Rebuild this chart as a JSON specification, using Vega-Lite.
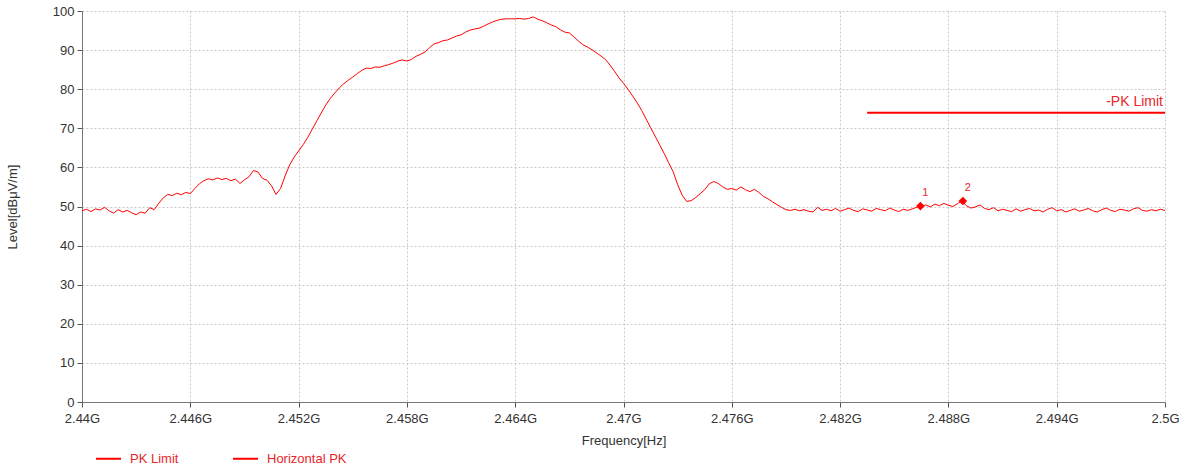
{
  "$schema": "https://vega.github.io/schema/vega-lite/v6.json",
  "autosize": {"type": "none"},
  "padding": {"left": 82, "top": 11, "right": 25, "bottom": 69},
  "width": 1083,
  "height": 391,
  "background": "white",
  "config": {
    "font": "Liberation Sans",
    "view": {"stroke": null},
    "axis": {
      "labelFont": "Liberation Sans", "labelFontSize": 13, "labelColor": "#333333",
      "titleFont": "Liberation Sans", "titleFontSize": 13, "titleFontWeight": "normal", "titleColor": "#333333",
      "domainColor": "#777777", "tickColor": "#555555", "tickSize": 5,
      "gridColor": "#c8c8c8", "gridDash": [2, 2], "gridWidth": 1
    }
  },
  "datasets": {
    "trace": [
      {"f":2440,"v":48.9},{"f":2440.25,"v":49.3},{"f":2440.5,"v":48.7},{"f":2440.75,"v":49.4},{"f":2441,"v":49.1},{"f":2441.25,"v":49.8},{"f":2441.5,"v":48.9},{"f":2441.75,"v":48.3},{"f":2442,"v":49.2},{"f":2442.25,"v":48.6},{"f":2442.5,"v":49},{"f":2442.75,"v":48.4},{"f":2443,"v":47.9},{"f":2443.25,"v":48.6},{"f":2443.5,"v":48.3},{"f":2443.75,"v":49.7},
      {"f":2444,"v":49.2},{"f":2444.25,"v":50.8},{"f":2444.5,"v":52.2},{"f":2444.75,"v":53.1},{"f":2445,"v":52.8},{"f":2445.25,"v":53.4},{"f":2445.5,"v":53.0},{"f":2445.75,"v":53.6},{"f":2446,"v":53.3},{"f":2446.25,"v":54.6},{"f":2446.5,"v":55.8},{"f":2446.75,"v":56.6},{"f":2447,"v":57.1},{"f":2447.25,"v":56.8},{"f":2447.5,"v":57.3},{"f":2447.75,"v":56.9},
      {"f":2448,"v":57.2},{"f":2448.25,"v":56.6},{"f":2448.5,"v":57.0},{"f":2448.75,"v":55.9},{"f":2449,"v":56.8},{"f":2449.25,"v":57.6},{"f":2449.5,"v":59.2},{"f":2449.75,"v":58.8},{"f":2450,"v":57.2},{"f":2450.25,"v":56.7},{"f":2450.5,"v":55.3},{"f":2450.75,"v":53.1},{"f":2451,"v":54.6},{"f":2451.25,"v":57.8},{"f":2451.5,"v":60.6},{"f":2451.75,"v":62.6},
      {"f":2452,"v":64.2},{"f":2452.25,"v":65.8},{"f":2452.5,"v":67.6},{"f":2452.75,"v":69.7},{"f":2453,"v":71.8},{"f":2453.25,"v":73.9},{"f":2453.5,"v":75.9},{"f":2453.75,"v":77.6},{"f":2454,"v":79.0},{"f":2454.25,"v":80.3},{"f":2454.5,"v":81.4},{"f":2454.75,"v":82.3},{"f":2455,"v":83.1},{"f":2455.25,"v":84.0},{"f":2455.5,"v":84.8},{"f":2455.75,"v":85.4},
      {"f":2456,"v":85.3},{"f":2456.25,"v":85.7},{"f":2456.5,"v":85.6},{"f":2456.75,"v":86.0},{"f":2457,"v":86.3},{"f":2457.25,"v":86.7},{"f":2457.5,"v":87.2},{"f":2457.75,"v":87.5},{"f":2458,"v":87.2},{"f":2458.25,"v":87.6},{"f":2458.5,"v":88.4},{"f":2458.75,"v":88.9},{"f":2459,"v":89.5},{"f":2459.25,"v":90.6},{"f":2459.5,"v":91.6},{"f":2459.75,"v":91.9},
      {"f":2460,"v":92.4},{"f":2460.25,"v":92.6},{"f":2460.5,"v":93.1},{"f":2460.75,"v":93.6},{"f":2461,"v":93.9},{"f":2461.25,"v":94.6},{"f":2461.5,"v":95.1},{"f":2461.75,"v":95.4},{"f":2462,"v":95.6},{"f":2462.25,"v":96.1},{"f":2462.5,"v":96.7},{"f":2462.75,"v":97.2},{"f":2463,"v":97.6},{"f":2463.25,"v":97.9},{"f":2463.5,"v":98.0},{"f":2463.75,"v":98.0},
      {"f":2464,"v":98.0},{"f":2464.25,"v":98.1},{"f":2464.5,"v":97.9},{"f":2464.75,"v":98.1},{"f":2465,"v":98.5},{"f":2465.25,"v":97.9},{"f":2465.5,"v":97.5},{"f":2465.75,"v":97.0},{"f":2466,"v":96.4},{"f":2466.25,"v":96.0},{"f":2466.5,"v":95.2},{"f":2466.75,"v":94.6},{"f":2467,"v":94.4},{"f":2467.25,"v":93.4},{"f":2467.5,"v":92.3},{"f":2467.75,"v":91.4},
      {"f":2468,"v":90.8},{"f":2468.25,"v":90.1},{"f":2468.5,"v":89.3},{"f":2468.75,"v":88.5},{"f":2469,"v":87.6},{"f":2469.25,"v":86.2},{"f":2469.5,"v":84.6},{"f":2469.75,"v":82.9},{"f":2470,"v":81.5},{"f":2470.25,"v":80.0},{"f":2470.5,"v":78.3},{"f":2470.75,"v":76.6},{"f":2471,"v":74.6},{"f":2471.25,"v":72.4},{"f":2471.5,"v":70.2},{"f":2471.75,"v":68.0},
      {"f":2472,"v":65.8},{"f":2472.25,"v":63.6},{"f":2472.5,"v":61.2},{"f":2472.75,"v":58.9},{"f":2473,"v":55.6},{"f":2473.25,"v":52.9},{"f":2473.5,"v":51.3},{"f":2473.75,"v":51.5},{"f":2474,"v":52.3},{"f":2474.25,"v":53.3},{"f":2474.5,"v":54.3},{"f":2474.75,"v":55.8},{"f":2475,"v":56.4},{"f":2475.25,"v":55.9},{"f":2475.5,"v":55.0},{"f":2475.75,"v":54.4},
      {"f":2476,"v":54.6},{"f":2476.25,"v":54.2},{"f":2476.5,"v":55.0},{"f":2476.75,"v":54.3},{"f":2477,"v":53.8},{"f":2477.25,"v":54.4},{"f":2477.5,"v":53.6},{"f":2477.75,"v":52.6},{"f":2478,"v":52.0},{"f":2478.25,"v":51.2},{"f":2478.5,"v":50.5},{"f":2478.75,"v":49.8},{"f":2479,"v":49.2},{"f":2479.25,"v":49.0},{"f":2479.5,"v":49.3},{"f":2479.75,"v":48.9},
      {"f":2480,"v":49.2},{"f":2480.25,"v":48.8},{"f":2480.5,"v":48.6},{"f":2480.75,"v":49.8},{"f":2481,"v":49.0},{"f":2481.25,"v":49.3},{"f":2481.5,"v":48.9},{"f":2481.75,"v":49.5},{"f":2482,"v":48.8},{"f":2482.25,"v":49.2},{"f":2482.5,"v":49.6},{"f":2482.75,"v":49.0},{"f":2483,"v":48.7},{"f":2483.25,"v":49.4},{"f":2483.5,"v":49.1},{"f":2483.75,"v":48.8},
      {"f":2484,"v":49.5},{"f":2484.25,"v":49.2},{"f":2484.5,"v":48.9},{"f":2484.75,"v":49.6},{"f":2485,"v":49.1},{"f":2485.25,"v":48.7},{"f":2485.5,"v":49.3},{"f":2485.75,"v":49.0},{"f":2486,"v":49.4},{"f":2486.25,"v":49.8},{"f":2486.5,"v":50.1},{"f":2486.75,"v":50.4},{"f":2487,"v":49.9},{"f":2487.25,"v":50.6},{"f":2487.5,"v":50.2},{"f":2487.75,"v":50.8},
      {"f":2488,"v":50.3},{"f":2488.25,"v":50.0},{"f":2488.5,"v":50.7},{"f":2488.75,"v":51.5},{"f":2489,"v":50.2},{"f":2489.25,"v":49.6},{"f":2489.5,"v":49.9},{"f":2489.75,"v":50.4},{"f":2490,"v":49.5},{"f":2490.25,"v":49.2},{"f":2490.5,"v":49.7},{"f":2490.75,"v":48.9},{"f":2491,"v":49.3},{"f":2491.25,"v":49.0},{"f":2491.5,"v":48.7},{"f":2491.75,"v":49.4},
      {"f":2492,"v":48.8},{"f":2492.25,"v":49.2},{"f":2492.5,"v":49.5},{"f":2492.75,"v":48.9},{"f":2493,"v":49.1},{"f":2493.25,"v":48.6},{"f":2493.5,"v":49.3},{"f":2493.75,"v":49.7},{"f":2494,"v":48.9},{"f":2494.25,"v":49.2},{"f":2494.5,"v":48.6},{"f":2494.75,"v":49.0},{"f":2495,"v":49.4},{"f":2495.25,"v":48.8},{"f":2495.5,"v":49.1},{"f":2495.75,"v":49.5},
      {"f":2496,"v":48.9},{"f":2496.25,"v":48.6},{"f":2496.5,"v":49.2},{"f":2496.75,"v":49.6},{"f":2497,"v":49.0},{"f":2497.25,"v":48.7},{"f":2497.5,"v":49.3},{"f":2497.75,"v":49.1},{"f":2498,"v":48.8},{"f":2498.25,"v":49.4},{"f":2498.5,"v":49.7},{"f":2498.75,"v":49.0},{"f":2499,"v":48.8},{"f":2499.25,"v":49.2},{"f":2499.5,"v":48.9},{"f":2499.75,"v":49.3},{"f":2500,"v":49.0}
    ],
    "limit": [{"f": 2483.5, "v": 74, "label": "-PK Limit"}, {"f": 2500, "v": 74, "label": "-PK Limit"}],
    "markers": [{"f": 2486.45, "v": 50.1, "n": "1"}, {"f": 2488.8, "v": 51.4, "n": "2"}]
  },
  "encoding": {
    "x": {
      "field": "f", "type": "quantitative",
      "scale": {"domain": [2440, 2500], "nice": false, "zero": false},
      "axis": {
        "title": "Frequency[Hz]", "titlePadding": 9,
        "values": [2440, 2446, 2452, 2458, 2464, 2470, 2476, 2482, 2488, 2494, 2500],
        "labelExpr": "format(datum.value / 1000, '.3~f') + 'G'",
        "labelPadding": 5, "labelFlush": false, "grid": true
      }
    },
    "y": {
      "field": "v", "type": "quantitative",
      "scale": {"domain": [0, 100], "nice": false},
      "axis": {
        "title": "Level[dBμV/m]", "titlePadding": 33,
        "values": [0, 10, 20, 30, 40, 50, 60, 70, 80, 90, 100],
        "labelPadding": 3, "grid": true
      }
    }
  },
  "layer": [
    {
      "data": {"name": "trace"},
      "mark": {"type": "line", "strokeWidth": 1, "interpolate": "linear"},
      "encoding": {
        "color": {
          "datum": "Horizontal PK",
          "scale": {"domain": ["PK Limit", "Horizontal PK"], "range": ["#ff0000", "#ff0000"]},
          "legend": {
            "title": null, "orient": "none", "direction": "horizontal",
            "legendX": 13, "legendY": 434,
            "symbolType": "stroke", "symbolStrokeWidth": 2, "symbolSize": 625,
            "labelFont": "Liberation Sans", "labelFontSize": 13, "labelColor": "#e8262a",
            "labelOffset": 8, "columnPadding": 50
          }
        }
      }
    },
    {
      "data": {"name": "limit"},
      "mark": {"type": "line", "strokeWidth": 2},
      "encoding": {"color": {"datum": "PK Limit"}}
    },
    {
      "data": {"name": "limit"},
      "transform": [{"filter": "datum.f == 2500"}],
      "mark": {"type": "text", "align": "right", "baseline": "middle", "dx": -2, "dy": -11, "fontSize": 14, "color": "#e8262a", "font": "Liberation Sans"},
      "encoding": {"text": {"field": "label"}}
    },
    {
      "data": {"name": "markers"},
      "mark": {"type": "point", "shape": "diamond", "filled": true, "size": 75, "color": "#ff0000", "opacity": 1},
      "encoding": {}
    },
    {
      "data": {"name": "markers"},
      "mark": {"type": "text", "dx": 5, "dy": -13, "fontSize": 11, "color": "#e8262a", "font": "Liberation Sans"},
      "encoding": {"text": {"field": "n"}}
    }
  ]
}
